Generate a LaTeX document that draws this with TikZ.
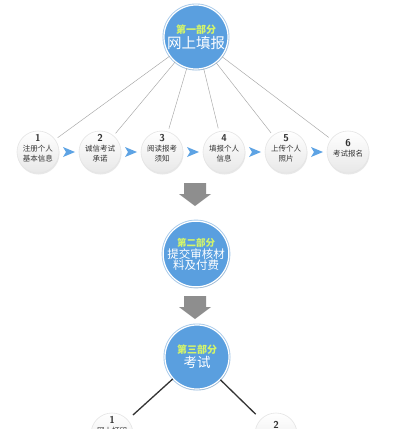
\documentclass[tikz,border=0pt]{standalone}
\usepackage{fontspec}
\newfontfamily\cjk{Noto Sans CJK SC}
\usetikzlibrary{shadows,calc}
\definecolor{bluefill}{HTML}{5A9FDF}
\definecolor{ringblue}{HTML}{A9CBEB}
\definecolor{partlbl}{HTML}{D4F56A}
\definecolor{chev}{HTML}{5DA3E4}
\definecolor{arrowgrey}{HTML}{8E8E8E}
\definecolor{steptxt}{HTML}{333333}
\tikzset{
  part/.style={circle, fill=bluefill, draw=white, line width=1.2pt,
    preaction={draw=ringblue, line width=3pt},
    drop shadow={shadow xshift=0.6pt, shadow yshift=-1.2pt, opacity=0.25},
    minimum size=64pt, inner sep=0pt, align=center, text=white, font=\cjk},
  stepcirc/.style={circle, top color=white, bottom color=black!9, draw=black!10,
    line width=0.6pt,
    drop shadow={shadow xshift=0.5pt, shadow yshift=-1.5pt, opacity=0.18},
    minimum size=42pt, inner sep=0pt},
  steptext/.style={align=center, text=steptxt, inner sep=0pt,
    font=\cjk\fontsize{7.5}{9.5}\selectfont},
  thinline/.style={draw=black!35, line width=0.45pt, shorten >=3pt},
  darkline/.style={draw=black!80, line width=1.3pt, shorten >=7pt},
  numfont/.style={},
}
\newcommand{\stepnum}[1]{{\sffamily\bfseries\fontsize{10}{10}\selectfont #1}}
\begin{document}
\begin{tikzpicture}[x=1pt,y=-1pt]
\clip (0,0) rectangle (400,429);
\fill[white] (0,0) rectangle (400,429);

% part 1
\node[part] (p1) at (196,37)
  {{\fontsize{10}{12}\selectfont\color{partlbl}\bfseries 第一部分}\\[1pt]{\fontsize{14.5}{16}\selectfont 网上填报}};

% steps
\foreach \i/\x/\t in {1/38/{注册个人\\基本信息},2/100/{诚信考试\\承诺},3/162/{阅读报考\\须知},4/224/{填报个人\\信息},5/286/{上传个人\\照片},6/348/{考试报名}}{
  \node[stepcirc] (s\i) at (\x,152) {};
  \node[steptext] (t\i) at ([yshift=4pt]s\i.center) {\stepnum{\i}\\[1pt]\t};
}
\foreach \i in {1,...,6}{
  \draw[thinline] (p1) -- (s\i);
}
\foreach \i/\j in {1/2,2/3,3/4,4/5,5/6}{
  \coordinate (m\i) at ($(s\i)!0.5!(s\j)$);
  \fill[chev] ($(m\i)+(6,0)$) -- ($(m\i)+(-6,-5)$) -- ($(m\i)+(-3,0)$) -- ($(m\i)+(-6,5)$) -- cycle;
}

% grey arrow 1
\coordinate (g1) at (195,183);
\fill[arrowgrey] ($(g1)+(-11,0)$) -- ($(g1)+(11,0)$) -- ($(g1)+(11,11)$) -- ($(g1)+(16,11)$)
  -- ($(g1)+(0,23)$) -- ($(g1)+(-16,11)$) -- ($(g1)+(-11,11)$) -- cycle;

% part 2
\node[part] (p2) at (196,254)
  {{\fontsize{9.5}{11}\selectfont\color{partlbl}\bfseries 第二部分}\\[0pt]{\fontsize{11.5}{13}\selectfont 提交审核材}\\[-1pt]{\fontsize{11.5}{13}\selectfont 料及付费}};

% grey arrow 2
\coordinate (g2) at (195,296);
\fill[arrowgrey] ($(g2)+(-11,0)$) -- ($(g2)+(11,0)$) -- ($(g2)+(11,11)$) -- ($(g2)+(16,11)$)
  -- ($(g2)+(0,23)$) -- ($(g2)+(-16,11)$) -- ($(g2)+(-11,11)$) -- cycle;

% part 3
\node[part] (p3) at (197,357)
  {{\fontsize{10}{12}\selectfont\color{partlbl}\bfseries 第三部分}\\[1pt]{\fontsize{13.5}{15}\selectfont 考试}};

% bottom nodes
\node[stepcirc] (b1) at (112,434) {};
\node[steptext] (bt1) at ([yshift=4pt]b1.center) {\stepnum{1}\\[1pt]网上打印\\准考证};
\node[stepcirc] (b2) at (276,434) {};
\node[steptext] (bt2) at ([yshift=4pt]b2.center) {\stepnum{2}\\[1pt]参加考试};
\draw[darkline] (p3) -- (b1);
\draw[darkline] (p3) -- (b2);
\end{tikzpicture}
\end{document}
